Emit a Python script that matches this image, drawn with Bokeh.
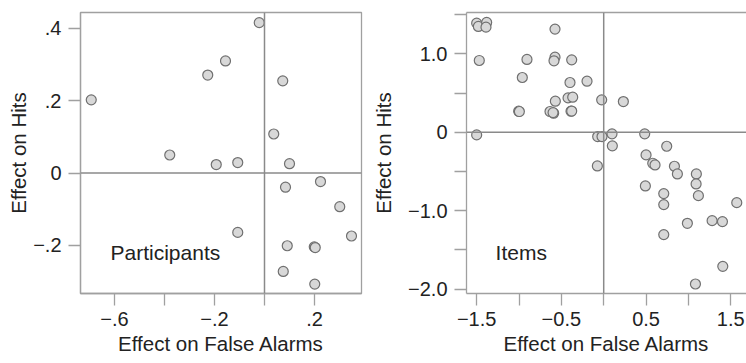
from bokeh.plotting import figure
from bokeh.layouts import row
from bokeh.models import FixedTicker, Span, Label, LinearAxis, Range1d
from bokeh.embed import file_html
from bokeh.resources import INLINE

# ---- data: participants panel ----
part_fa = [-0.693, -0.379, -0.227, -0.156, -0.193, -0.107, -0.107, -0.021, 0.073, 0.037,
           0.100, 0.084, 0.224, 0.301, 0.348, 0.091, 0.199, 0.203, 0.075, 0.201]
part_hits = [0.2025, 0.050, 0.271, 0.310, 0.0235, 0.029, -0.164, 0.416, 0.255, 0.108,
             0.026, -0.039, -0.0235, -0.093, -0.174, -0.201, -0.204, -0.206, -0.272, -0.307]

# ---- data: items panel ----
item_fa = [-1.500, -1.480, -1.382, -1.390, -1.469, -1.500, -0.906, -0.961, -1.004, -0.996,
           -0.575, -0.575, -0.587, -0.378, -0.398, -0.197, -0.421, -0.366, -0.571, -0.634,
           -0.591, -0.598, -0.386, -0.378, -0.024, 0.232, -0.071, -0.020, 0.098, 0.102,
           -0.075, 0.484, 0.500, 0.579, 0.606, 0.744, 0.835, 0.870, 0.492, 0.709,
           0.709, 0.709, 1.094, 1.091, 1.118, 0.988, 1.280, 1.402, 1.571, 1.406, 1.083]
item_hits = [1.391, 1.349, 1.400, 1.340, 0.915, -0.034, 0.928, 0.698, 0.268, 0.264,
             1.315, 0.957, 0.911, 0.923, 0.634, 0.651, 0.438, 0.447, 0.396, 0.264,
             0.243, 0.250, 0.268, 0.270, 0.413, 0.391, -0.055, -0.055, -0.021, -0.174,
             -0.430, -0.021, -0.289, -0.396, -0.417, -0.179, -0.434, -0.532, -0.685, -0.783,
             -0.923, -1.306, -0.532, -0.660, -0.809, -1.162, -1.128, -1.140, -0.898, -1.711, -1.936]

# ---- ticks ----
part_x_major = [-0.6, -0.2, 0.2]
part_x_minor = [-0.4, 0.0]
part_x_labels = ["\u2212.6", "\u2212.2", ".2"]
part_y_major = [0.4, 0.2, 0.0, -0.2]
part_y_labels = [".4", ".2", "0", "\u2212.2"]

item_x_major = [-1.5, -0.5, 0.5, 1.5]
item_x_minor = [-1.0, 0.0, 1.0]
item_x_labels = ["\u22121.5", "\u22120.5", "0.5", "1.5"]
item_y_major = [1.0, 0.0, -1.0, -2.0]
item_y_minor = [1.5, 0.5, -0.5, -1.5]
item_y_labels = ["1.0", "0", "\u22121.0", "\u22122.0"]

FONT = "Liberation Sans"
TXT = "#222222"
FRAME = "#a0a0a0"
ZERO = "#8a8a8a"


def style_axis(ax, ticks, minor, labels, standoff):
    ax.ticker = FixedTicker(ticks=ticks, minor_ticks=minor)
    ax.major_label_overrides = {float(t): l for t, l in zip(ticks, labels)}
    ax.major_tick_in = 0
    ax.major_tick_out = 12
    ax.minor_tick_in = 0
    ax.minor_tick_out = 12
    ax.major_tick_line_color = FRAME
    ax.minor_tick_line_color = FRAME
    ax.major_tick_line_width = 1.3
    ax.minor_tick_line_width = 1.3
    ax.axis_line_color = FRAME
    ax.axis_line_width = 1.3
    ax.major_label_text_font = FONT
    ax.major_label_text_font_size = "20px"
    ax.major_label_text_color = TXT
    ax.major_label_standoff = standoff
    ax.axis_label_text_font = FONT
    ax.axis_label_text_font_size = "20.5px"
    ax.axis_label_text_font_style = "normal"
    ax.axis_label_text_color = TXT


def make_panel(xs, ys, xr, yr, xt, xmin, xl, yt, ymin, yl, label, lx, ly,
               left_border, fw, right_border, outline, ylab_standoff):
    p = figure(frame_width=fw, frame_height=281,
               min_border_left=left_border, min_border_right=right_border,
               min_border_top=12, min_border_bottom=70,
               x_range=Range1d(*xr), y_range=Range1d(*yr),
               output_backend="svg", toolbar_location=None,
               background_fill_color="white", border_fill_color="white")
    p.grid.visible = False
    xa = p.below[0]
    ya = p.left[0]
    if outline:
        p.outline_line_color = FRAME
        p.outline_line_width = 1.3
    else:
        p.outline_line_color = None
        top = LinearAxis(ticker=FixedTicker(ticks=[]), axis_line_color=FRAME,
                         axis_line_width=1.3, major_label_text_font_size="0px",
                         major_tick_line_color=None, minor_tick_line_color=None,
                         major_tick_out=0, minor_tick_out=0, major_label_standoff=0)
        p.add_layout(top, "above")
    style_axis(xa, xt, xmin, xl, 6)
    style_axis(ya, yt, ymin, yl, 7)
    xa.axis_label = "Effect on False Alarms"
    ya.axis_label = "Effect on Hits"
    xa.axis_label_standoff = 3
    ya.axis_label_standoff = ylab_standoff
    p.add_layout(Span(location=0, dimension="height", line_color=ZERO, line_width=1.5))
    p.add_layout(Span(location=0, dimension="width", line_color=ZERO, line_width=1.5))
    p.scatter(xs, ys, size=10, fill_color="#d8d8d8", line_color="#707070",
              line_width=1.2, marker="circle")
    p.add_layout(Label(x=lx, y=ly, text=label, text_font=FONT, text_font_size="21px",
                       text_color=TXT, text_baseline="middle", text_align="left"))
    return p


p1 = make_panel(part_fa, part_hits, (-0.736, 0.388), (-0.333, 0.444),
                part_x_major, part_x_minor, part_x_labels,
                part_y_major, [], part_y_labels,
                "Participants", -0.616, -0.219, 80, 281, 6, True, 0)
p2 = make_panel(item_fa, item_hits, (-1.62, 1.686), (-2.057, 1.527),
                item_x_major, item_x_minor, item_x_labels,
                item_y_major, item_y_minor, item_y_labels,
                "Items", -1.277, -1.531, 99, 280, 0, False, 10)

layout = row(p1, p2)
open("out.html", "w").write(file_html(layout, INLINE))
